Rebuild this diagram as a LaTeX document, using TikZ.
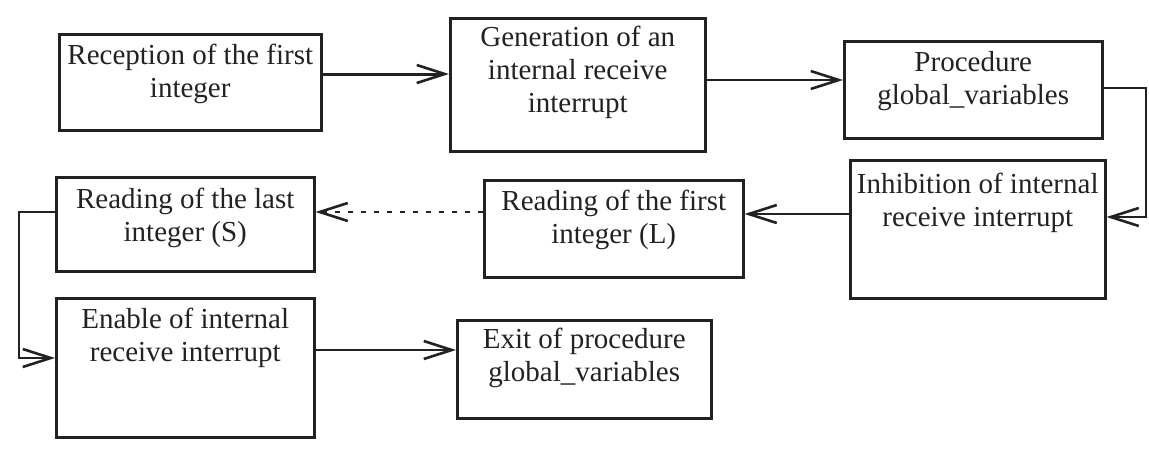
\documentclass[tikz,border=0pt]{standalone}
\usepackage{fontspec}
\newfontfamily\serifface{Liberation Serif}
\usetikzlibrary{arrows.meta}
\definecolor{ink}{HTML}{222222}
\newcommand{\flowbox}[7]{\node[flowrect] (#1) at (#2,#3) {\parbox[c][#5pt][t]{#4pt}{\serifface\fontsize{29}{33}\selectfont\centering\vspace*{#6pt}#7\par}};}
\begin{document}
\begin{tikzpicture}[x=1pt,y=-1pt,
  flowrect/.style={draw=ink, line width=2.5pt, inner sep=0pt, anchor=north west, text=ink},
  conn/.style={draw=ink, line width=2.3pt, -{Straight Barb[length=28pt,width=18pt,line width=2.6pt]}},
  dotconn/.style={conn, dash pattern=on 5pt off 8pt}]
\useasboundingbox (0,0) rectangle (1149,448);
\flowbox{b1}{58}{33}{262}{96}{10}{Reception of the first\\integer}
\flowbox{b2}{449}{17}{255}{133}{8}{Generation of an\\internal receive\\interrupt}
\flowbox{b3}{843}{40}{258}{97}{10}{Procedure\\global\_variables}
\flowbox{b4}{849}{159}{255}{138}{13}{Inhibition of internal\\receive interrupt}
\flowbox{b5}{483}{179}{259}{97}{10}{Reading of the first\\integer (L)}
\flowbox{b6}{55}{176}{258}{94}{11}{Reading of the last\\integer (S)}
\flowbox{b7}{55}{297}{258}{139}{10}{Enable of internal\\receive interrupt}
\flowbox{b8}{456}{319}{254}{98}{8}{Exit of procedure\\global\_variables}
\draw[conn, line width=3pt] (b1.east |- 0,74) -- (b2.west |- 0,74);
\draw[conn] (b2.east |- 0,80) -- (b3.west |- 0,80);
\draw[conn] (b3.east |- 0,88) -- (1146,88) |- (b4.east |- 0,217);
\draw[conn] (b4.west |- 0,214) -- (b5.east |- 0,214);
\draw[dotconn] (b5.west |- 0,212) -- (b6.east |- 0,212);
\draw[conn] (b6.west |- 0,212) -- (19,212) |- (b7.west |- 0,358);
\draw[conn] (b7.east |- 0,350) -- (b8.west |- 0,350);
\end{tikzpicture}
\end{document}
